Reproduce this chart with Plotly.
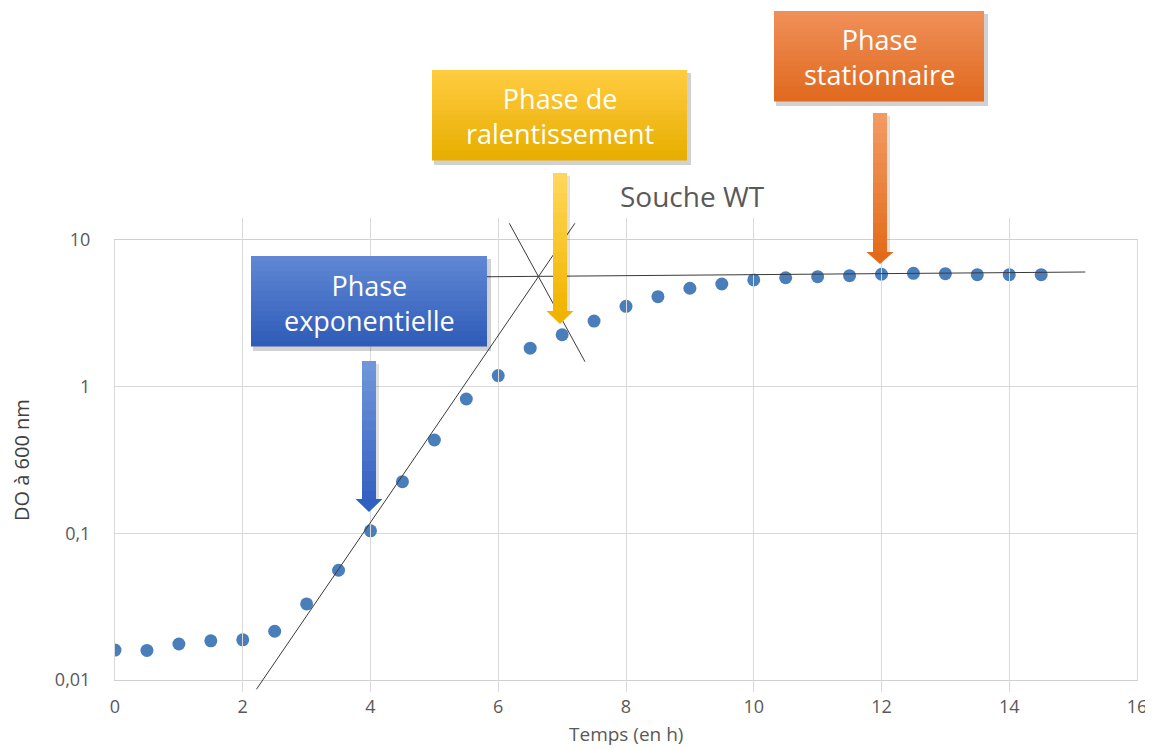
import plotly.graph_objects as go

# Souche WT : DO à 600 nm en fonction du temps
temps = [0, 0.5, 1, 1.5, 2, 2.5, 3, 3.5, 4, 4.5, 5, 5.5, 6, 6.5, 7,
         7.5, 8, 8.5, 9, 9.5, 10, 10.5, 11, 11.5, 12, 12.5, 13, 13.5, 14, 14.5]
do600 = [0.016, 0.0159, 0.0176, 0.0185, 0.0188, 0.0215, 0.033, 0.056, 0.104, 0.225,
         0.433, 0.824, 1.19, 1.83, 2.26, 2.80, 3.53, 4.11, 4.69, 5.01,
         5.34, 5.53, 5.62, 5.71, 5.84, 5.93, 5.89, 5.80, 5.80, 5.80]

# droites tracées à la main sur le graphique (extrémités)
exp_x = [2.215, 7.20]
exp_y = [0.00865, 13.0]
ral_x = [6.173, 7.358]
ral_y = [13.0, 1.48]
stat_x = [5.5, 15.19]
stat_y = [5.6, 6.05]

y_ticks = [0.01, 0.1, 1, 10]
y_ticktext = ['0,01', '0,1', '1', '10']

# la page ajoute une marge de 8 px autour de la figure
OFF = 8
W, H = 1153 - OFF, 749 - OFF
ML, MR, MT, MB = 115 - OFF, W - (1137 - OFF), 200 - OFF, H - (709 - OFF)
PW, PH = W - ML - MR, H - MT - MB


def px(x):
    return (x - OFF - ML) / PW


def py(y):
    return (H - MB - (y - OFF)) / PH


# domaine du graphe principal + domaine élargi pour les droites (débordent du cadre)
dom = [py(680), py(240)]
dom2 = [py(692), py(218)]
k = 3 / (dom[1] - dom[0])
range2 = [-2 - (dom[0] - dom2[0]) * k, 1 + (dom2[1] - dom[1]) * k]

fig = go.Figure()
for lx, ly in [(exp_x, exp_y), (ral_x, ral_y), (stat_x, stat_y)]:
    fig.add_trace(go.Scatter(
        x=lx, y=ly, mode='lines', xaxis='x', yaxis='y2',
        line=dict(color='#3a3a3a', width=1), showlegend=False
    ))
fig.add_trace(go.Scatter(
    x=temps, y=do600, mode='markers',
    marker=dict(color='#4a7ebb', size=13), showlegend=False
))


def hexmix(c1, c2, t):
    a = [int(c1[i:i + 2], 16) for i in (1, 3, 5)]
    b = [int(c2[i:i + 2], 16) for i in (1, 3, 5)]
    return '#%02x%02x%02x' % tuple(round(a[i] + (b[i] - a[i]) * t) for i in range(3))


def gradient_rect(x0, y0, x1, y1, c_top, c_bot, n=18):
    h = (y1 - y0) / n
    for i in range(n):
        fig.add_shape(type='rect', xref='paper', yref='paper', layer='above',
                      x0=px(x0), x1=px(x1), y0=py(y0 + i * h), y1=py(y0 + (i + 1) * h + 0.6),
                      fillcolor=hexmix(c_top, c_bot, i / (n - 1)), line_width=0)


def box(x0, y0, x1, y1, c_top, c_bot, text, text_y):
    fig.add_shape(type='rect', xref='paper', yref='paper', layer='above',
                  x0=px(x0 + 2), x1=px(x1 + 4), y0=py(y0 + 3), y1=py(y1 + 5),
                  fillcolor='rgba(0,0,0,0.18)', line_width=0)
    gradient_rect(x0, y0, x1, y1, c_top, c_bot)
    fig.add_annotation(text=text, xref='paper', yref='paper', showarrow=False,
                       x=px((x0 + x1) / 2), y=py(text_y), xanchor='center', yanchor='middle',
                       font=dict(family='Open Sans', size=27, color='white'))


def arrow(xc, y_top, y_head, y_tip, shaft_w, head_w, c_top, c_bot, c_head):
    fig.add_shape(type='rect', xref='paper', yref='paper', layer='above',
                  x0=px(xc - shaft_w / 2 + 2), x1=px(xc + shaft_w / 2 + 3),
                  y0=py(y_top + 3), y1=py(y_head + 3),
                  fillcolor='rgba(0,0,0,0.12)', line_width=0)
    gradient_rect(xc - shaft_w / 2, y_top, xc + shaft_w / 2, y_head + 1, c_top, c_bot, n=14)
    path = 'M %f %f L %f %f L %f %f Z' % (px(xc - head_w / 2), py(y_head),
                                         px(xc + head_w / 2), py(y_head),
                                         px(xc), py(y_tip))
    fig.add_shape(type='path', xref='paper', yref='paper', layer='above', path=path,
                  fillcolor=c_head, line_width=0)


box(251, 256, 487, 346, '#5f87d4', '#2f5cb8', 'Phase<br>exponentielle', 303)
box(432, 70, 687, 160, '#ffcc40', '#e8ae00', 'Phase de<br>ralentissement', 116)
box(774, 11, 984, 101, '#f08f58', '#e06a1f', 'Phase<br>stationnaire', 57)

arrow(369, 361, 499, 512, 14, 27, '#7096d9', '#3562c2', '#3060c0')
arrow(560, 173, 311, 324, 14, 27, '#ffd65a', '#f2b600', '#f0b300')
arrow(880, 113, 252, 264, 14, 27, '#f29a62', '#e56e1e', '#e26a1a')

fig.add_annotation(text='Souche WT', xref='paper', yref='paper', showarrow=False,
                   x=px(692), y=py(196), xanchor='center', yanchor='middle',
                   font=dict(family='Open Sans', size=28, color='#595959'))

# titres des axes
fig.add_annotation(text='Temps (en h)', xref='paper', yref='paper', showarrow=False,
                   x=px(626), y=py(734), xanchor='center', yanchor='middle',
                   font=dict(family='Open Sans', size=19, color='#595959'))
fig.add_annotation(text='DO à 600 nm', xref='paper', yref='paper', showarrow=False,
                   x=px(21), y=py(460), xanchor='center', yanchor='middle', textangle=-90,
                   font=dict(family='Open Sans', size=20, color='#404040'))

fig.update_layout(
    width=W, height=H,
    margin=dict(l=ML, r=MR, t=MT, b=MB, autoexpand=False),
    paper_bgcolor='white', plot_bgcolor='rgba(0,0,0,0)',
    font=dict(family='Open Sans', color='#595959'),
    xaxis=dict(range=[0, 16], dtick=2, showgrid=True, gridcolor='#d9d9d9',
               showline=True, linecolor='#d0d0d0', mirror=True, zeroline=False,
               automargin=False, ticklabeloverflow='allow',
               tickfont=dict(size=18, color='#595959'), ticklabelstandoff=10),
    yaxis=dict(type='log', range=[-2, 1], domain=dom, tickvals=y_ticks, ticktext=y_ticktext,
               showgrid=True, gridcolor='#d9d9d9', showline=True, linecolor='#d9d9d9',
               mirror=True, zeroline=False, ticklabelstandoff=20, automargin=False,
               tickfont=dict(size=18, color='#595959')),
    yaxis2=dict(type='log', range=range2, domain=dom2, anchor='x', showgrid=False,
                showline=False, zeroline=False, showticklabels=False, ticks='',
                automargin=False),
)

fig.write_html('out.html')
